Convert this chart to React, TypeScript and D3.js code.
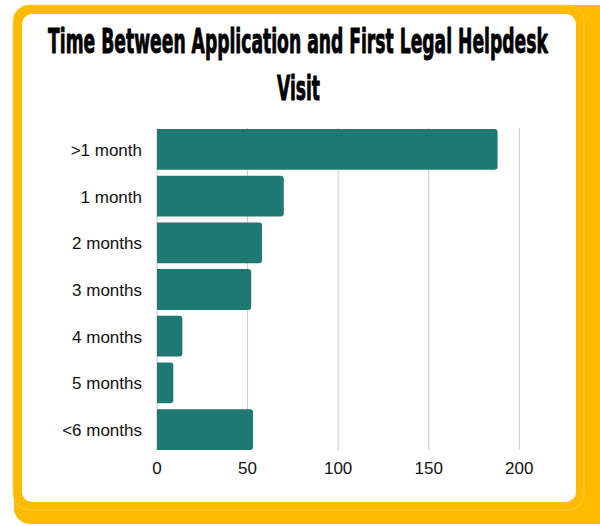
import React, { useLayoutEffect, useRef, useState } from "react";
import * as d3 from "d3";

const categories = [">1 month", "1 month", "2 months", "3 months", "4 months", "5 months", "<6 months"];
const counts = [188, 70, 58, 52, 14, 9, 53];
const xTicks = [0, 50, 100, 150, 200];
const titleLines = ["Time Between Application and First Legal Helpdesk", "Visit"];

function TitleLine({ text, cx, y, width }: { text: string; cx: number; y: number; width: number }) {
  const ref = useRef<SVGTextElement>(null);
  const [s, setS] = useState(0.45);
  useLayoutEffect(() => {
    if (ref.current) {
      const w = ref.current.getComputedTextLength();
      if (w > 0) setS(width / w);
    }
  }, [text, width]);
  return (
    <text
      ref={ref}
      transform={`translate(${cx},${y}) scale(${s},1)`}
      textAnchor="middle"
      fontFamily="'DejaVu Sans', sans-serif"
      fontWeight="bold"
      fontSize={34}
      fill="#000"
      stroke="#000"
      strokeWidth={1}
      strokeLinejoin="round"
    >
      {text}
    </text>
  );
}

export default function App() {
  const W = 600, H = 526;
  const x = d3.scaleLinear().domain([0, 200]).range([157, 519.3]);
  const y = d3.scaleBand<string>().domain(categories).range([129, 450]).paddingInner(0.126).paddingOuter(0);
  const bw = y.bandwidth();
  const r = 3;
  const barPath = (v: number, cat: string) => {
    const x0 = x(0), x1 = x(v), y0 = y(cat)!, y1 = y0 + bw;
    const p = d3.path();
    p.moveTo(x0, y0);
    p.lineTo(x1 - r, y0);
    p.quadraticCurveTo(x1, y0, x1, y0 + r);
    p.lineTo(x1, y1 - r);
    p.quadraticCurveTo(x1, y1, x1 - r, y1);
    p.lineTo(x0, y1);
    p.closePath();
    return p.toString();
  };
  const font = "'Liberation Sans', Arial, sans-serif";
  return (
    <div style={{ position: "fixed", left: 0, top: 0 }}>
      <svg width={W} height={H} style={{ display: "block" }}>
        <rect x={0} y={0} width={W} height={H} fill="#ffffff" />
        <rect x={14} y={5} width={600} height={519} rx={16} fill="#FFBB00" />
        <rect x={13} y={5} width={571} height={505} rx={16} fill="#FFBB00" stroke="#FFD45C" strokeWidth={0.8} />
        <rect x={22} y={14} width={554} height={488} rx={10} fill="#ffffff" />
        <TitleLine text={titleLines[0]} cx={298} y={52.7} width={500} />
        <TitleLine text={titleLines[1]} cx={298.5} y={100} width={43} />
        {xTicks.map((t) => (
          <line key={t} x1={x(t)} x2={x(t)} y1={128} y2={450} stroke="#cccccc" strokeWidth={1} />
        ))}
        {categories.map((c, i) => (
          <path key={c} d={barPath(counts[i], c)} fill="#1F7872" />
        ))}
        {categories.map((c) => (
          <text key={c} x={142} y={y(c)! + bw / 2 + 6.5} textAnchor="end" fontFamily={font} fontSize={17} fill="#111">
            {c}
          </text>
        ))}
        {xTicks.map((t) => (
          <text key={t} x={x(t)} y={474} textAnchor="middle" fontFamily={font} fontSize={17} fill="#111">
            {t}
          </text>
        ))}
      </svg>
    </div>
  );
}
